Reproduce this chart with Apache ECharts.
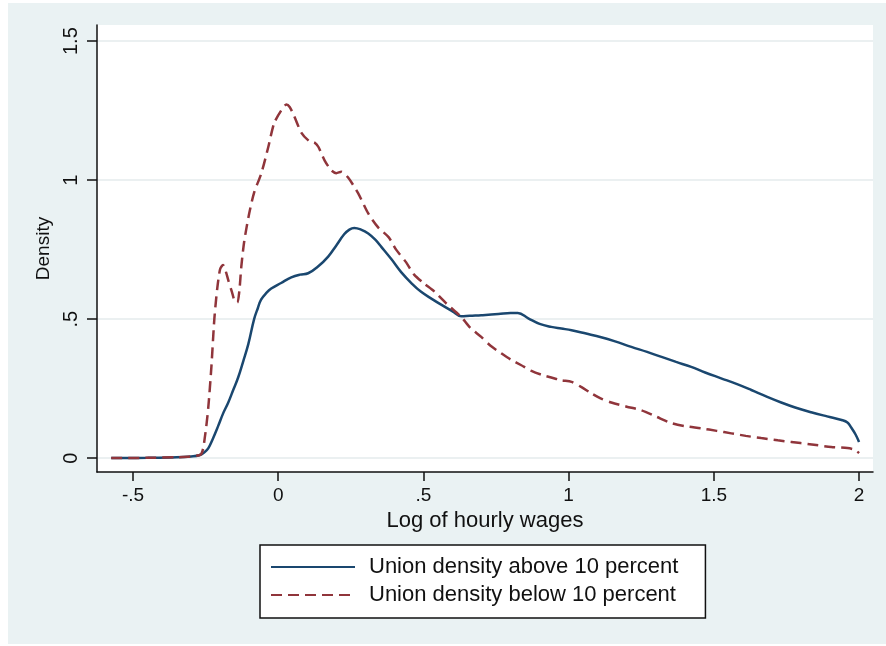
<!DOCTYPE html>
<html>
<head>
<meta charset="utf-8">
<script src="https://cdn.jsdelivr.net/npm/echarts@6/dist/echarts.min.js"></script>
<style>
  html, body { margin: 0; padding: 0; background: #ffffff; }
  #chart { position: absolute; left: 8px; top: 3px; width: 878px; height: 641px; }
</style>
</head>
<body>
<div id="chart"></div>
<script>
// tick positions
const xTicks = [-0.5, 0, 0.5, 1, 1.5, 2]
const yTicks = [0, 0.5, 1, 1.5]

// Union density above 10 percent
const aboveX = [-0.575, -0.45, -0.35, -0.3, -0.272, -0.255, -0.241, -0.225, -0.207, -0.19,
  -0.172, -0.155, -0.138, -0.12, -0.103, -0.083, -0.07, -0.059, -0.04, -0.024,
  0.01, 0.045, 0.075, 0.103, 0.138, 0.172, 0.2, 0.227, 0.245, 0.262,
  0.285, 0.31, 0.335, 0.355, 0.39, 0.424, 0.46, 0.492, 0.53, 0.561,
  0.6, 0.63, 0.66, 0.699, 0.758, 0.8, 0.825, 0.861, 0.9, 0.94,
  0.975, 1.01, 1.06, 1.112, 1.16, 1.216, 1.27, 1.32, 1.37, 1.422,
  1.47, 1.525, 1.58, 1.629, 1.68, 1.732, 1.78, 1.835, 1.89, 1.94,
  1.96, 1.973, 1.988, 2.0]
const aboveY = [0, 0.001, 0.003, 0.006, 0.01, 0.02, 0.035, 0.07, 0.115, 0.16,
  0.2, 0.245, 0.29, 0.35, 0.41, 0.5, 0.54, 0.57, 0.595, 0.61,
  0.63, 0.65, 0.66, 0.665, 0.69, 0.725, 0.765, 0.805, 0.822, 0.828,
  0.822, 0.808, 0.785, 0.76, 0.715, 0.668, 0.628, 0.598, 0.572, 0.552,
  0.528, 0.51, 0.512, 0.514, 0.518, 0.522, 0.522, 0.503, 0.483, 0.472,
  0.466, 0.46, 0.448, 0.435, 0.42, 0.40, 0.382, 0.364, 0.346, 0.328,
  0.308, 0.287, 0.266, 0.245, 0.222, 0.20, 0.182, 0.165, 0.15, 0.137,
  0.128, 0.11, 0.085, 0.058]

// Union density below 10 percent
const belowX = [-0.575, -0.45, -0.35, -0.3, -0.265, -0.252, -0.241, -0.23, -0.22, -0.21,
  -0.2, -0.19, -0.18, -0.172, -0.16, -0.15, -0.141, -0.134, -0.127, -0.117,
  -0.1, -0.083, -0.058, -0.034, -0.014, 0.01, 0.028, 0.04, 0.055, 0.08,
  0.107, 0.125, 0.138, 0.16, 0.183, 0.2, 0.217, 0.24, 0.275, 0.31,
  0.344, 0.38, 0.406, 0.44, 0.468, 0.5, 0.537, 0.58, 0.63, 0.66,
  0.699, 0.73, 0.768, 0.8, 0.837, 0.87, 0.906, 0.94, 0.975, 1.01,
  1.043, 1.078, 1.11, 1.147, 1.2, 1.25, 1.3, 1.353, 1.4, 1.457,
  1.51, 1.56, 1.61, 1.663, 1.72, 1.767, 1.83, 1.904, 1.96, 1.985, 2.0]
const belowY = [0, 0.001, 0.003, 0.006, 0.015, 0.08, 0.18, 0.33, 0.5, 0.61,
  0.68, 0.695, 0.67, 0.64, 0.6, 0.565, 0.56, 0.6, 0.69, 0.78,
  0.88, 0.955, 1.025, 1.12, 1.205, 1.25, 1.272, 1.262, 1.23, 1.17,
  1.14, 1.135, 1.12, 1.07, 1.035, 1.025, 1.03, 1.01, 0.953, 0.88,
  0.83, 0.795, 0.75, 0.705, 0.66, 0.63, 0.60, 0.555, 0.508, 0.47,
  0.436, 0.405, 0.377, 0.355, 0.334, 0.315, 0.30, 0.29, 0.28, 0.274,
  0.256, 0.233, 0.215, 0.20, 0.185, 0.172, 0.15, 0.126, 0.115, 0.107,
  0.098, 0.089, 0.08, 0.072, 0.064, 0.058, 0.05, 0.04, 0.036, 0.03, 0.018]

const font = "'Liberation Sans', Arial, Helvetica, sans-serif"
// Stata style: drop the leading zero
const stataFmt = v => String(v).replace(/^(-?)0\./, '$1.')
const pairs = (xs, ys) => xs.map((x, i) => [x, ys[i]])

const chart = echarts.init(document.getElementById('chart'))
chart.setOption({
  backgroundColor: '#eaf2f3',
  animation: false,
  textStyle: { fontFamily: font, color: '#111' },
  grid: {
    left: 89, top: 22, right: 13, bottom: 172,
    show: true, backgroundColor: '#ffffff', borderWidth: 0
  },
  xAxis: {
    type: 'value',
    min: -0.624, max: 2.048,
    name: 'Log of hourly wages',
    nameLocation: 'middle',
    nameGap: 36,
    nameTextStyle: { fontSize: 22, color: '#111', fontFamily: font },
    axisLine: { onZero: false, lineStyle: { color: '#111', width: 1.5 } },
    axisTick: { customValues: xTicks, length: 9, lineStyle: { color: '#111', width: 1.5 } },
    axisLabel: { customValues: xTicks, formatter: stataFmt, fontSize: 19, color: '#111', margin: 14, fontFamily: font },
    splitLine: { show: false }
  },
  yAxis: {
    type: 'value',
    min: -0.05, max: 1.558,
    name: 'Density',
    nameLocation: 'middle',
    nameGap: 44,
    nameTextStyle: { fontSize: 19, color: '#111', fontFamily: font },
    axisLine: { show: true, onZero: false, lineStyle: { color: '#111', width: 1.5 } },
    axisTick: { show: true, customValues: yTicks, length: 10, lineStyle: { color: '#111', width: 1.5 } },
    axisLabel: { customValues: yTicks, formatter: stataFmt, rotate: 90, fontSize: 20, color: '#111', margin: 16, fontFamily: font },
    splitLine: { show: true, lineStyle: { color: '#e4ebed', width: 1.5 } }
  },
  legend: {
    orient: 'vertical',
    left: 252, top: 542,
    padding: [11, 27, 12, 10],
    itemGap: 6,
    itemWidth: 84,
    itemHeight: 22,
    backgroundColor: '#ffffff',
    borderColor: '#111',
    borderWidth: 1.5,
    borderRadius: 0,
    itemStyle: { opacity: 0 },
    lineStyle: { width: 2 },
    textStyle: { fontSize: 22, lineHeight: 22, color: '#111', fontFamily: font, padding: [0, 0, 0, 9] },
    data: ['Union density above 10 percent', 'Union density below 10 percent']
  },
  series: [
    {
      name: 'Union density above 10 percent',
      type: 'line',
      data: pairs(aboveX, aboveY),
      symbol: 'none',
      smooth: 0.4,
      lineStyle: { color: '#1a476f', width: 2.5 },
      itemStyle: { color: '#1a476f' }
    },
    {
      name: 'Union density below 10 percent',
      type: 'line',
      data: pairs(belowX, belowY),
      symbol: 'none',
      smooth: 0.25,
      lineStyle: { color: '#90353b', width: 2.5, type: [11, 6] },
      itemStyle: { color: '#90353b' }
    }
  ]
})
</script>
</body>
</html>
